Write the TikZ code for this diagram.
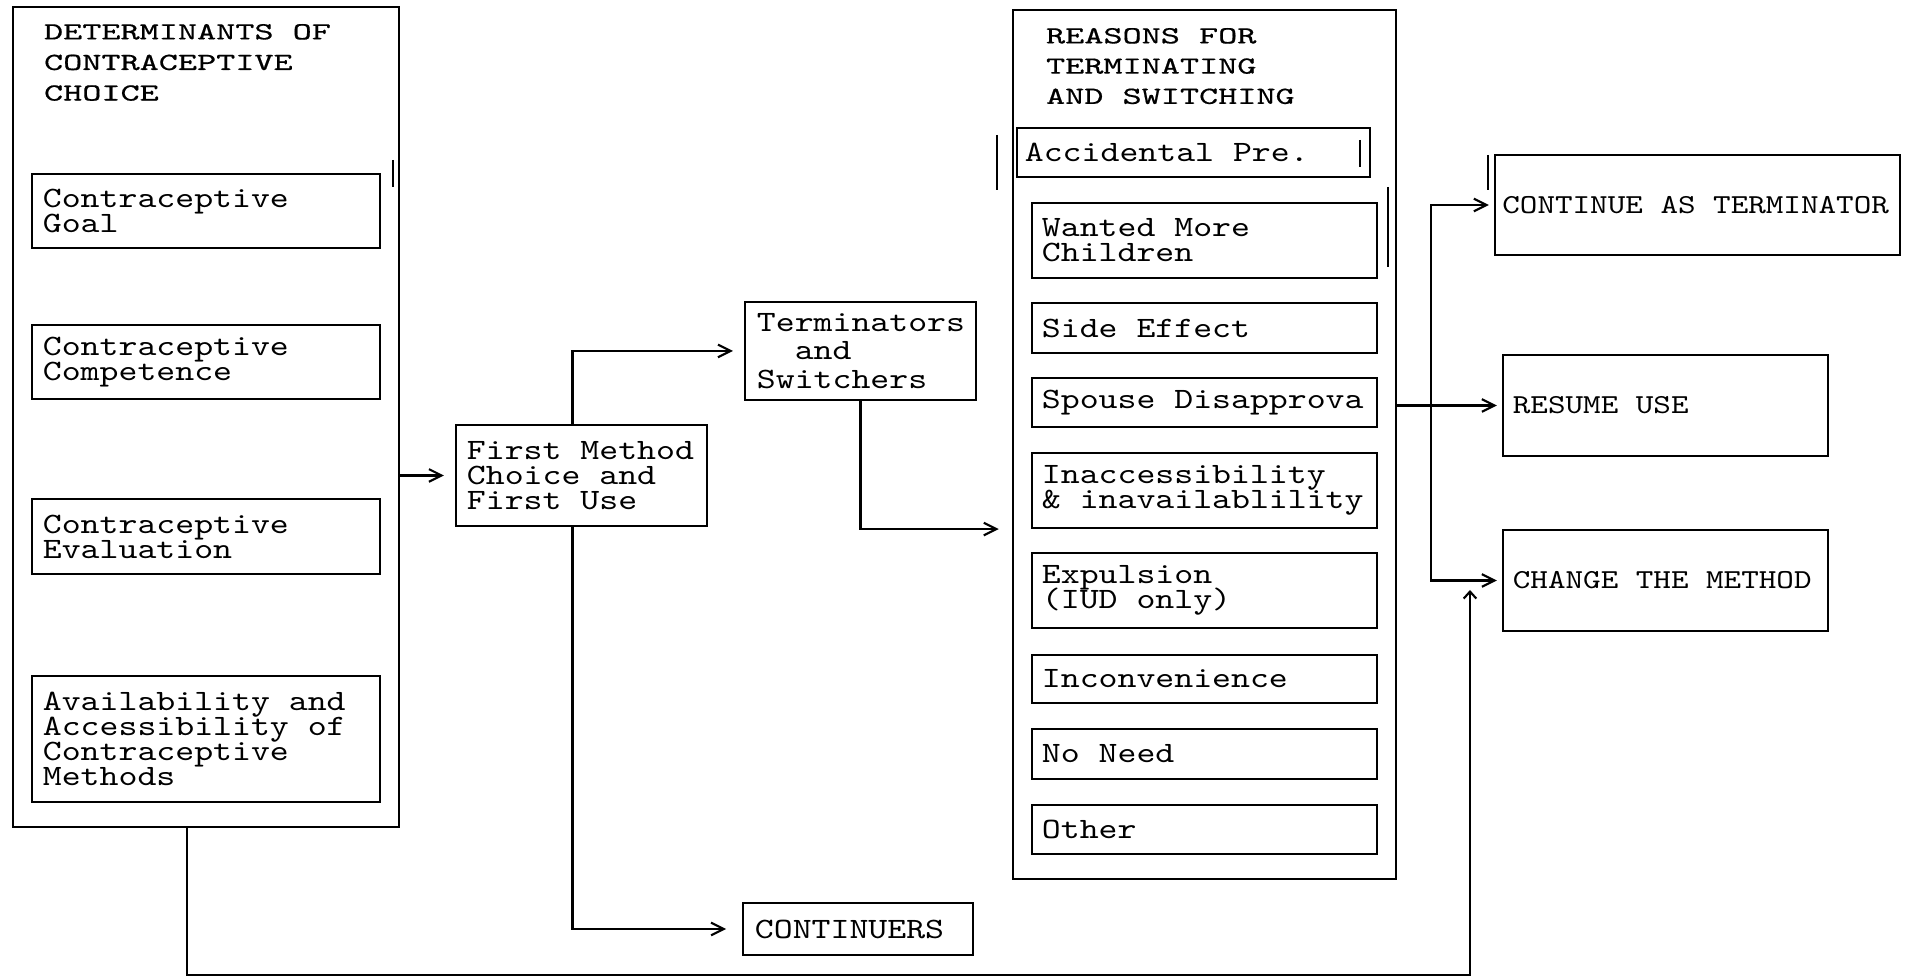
\documentclass[tikz,border=0pt]{standalone}
\usepackage{fontspec}
\newfontfamily\boxfont{lmmono10-regular.otf}[FakeStretch=1.22,HyphenChar=None]
\newfontfamily\headfont{lmmono10-regular.otf}[FakeStretch=1.48,FakeBold=0.6,HyphenChar=None]
\usetikzlibrary{arrows.meta,calc,positioning}
\normallineskiplimit=-10pt

\begin{document}
\lineskiplimit=-10pt
\begin{tikzpicture}[x=0.01cm,y=-0.01cm,line width=0.6pt]
\tikzset{frame/.style = {draw, rectangle, inner sep=0pt},
  item/.style = {frame, align=flush left, text width=3.25cm, minimum width=3.45cm,
    font=\boxfont\fontsize{8.4}{7.1}\selectfont},
  head/.style = {inner sep=0pt, align=left, anchor=north west,
    font=\headfont\fontsize{7}{8.7}\selectfont},
  outcome/.style = {frame, align=flush left, text width=3.05cm, minimum width=3.25cm,
    minimum height=1.01cm, font=\boxfont\fontsize{7.8}{9}\selectfont},
  flow/.style = {-{Straight Barb[length=3.6pt,width=3.6pt]}, shorten >=3.1pt},
  backflow/.style = {-{Straight Barb[length=2pt,width=3.6pt]}}}
\useasboundingbox (0,0) rectangle (1932,980);

\node[frame, minimum width=3.86cm, minimum height=8.20cm] (det) at (206,417) {};
\node[head] (dettitle) at (43,23) {DETERMINANTS OF\\CONTRACEPTIVE\\CHOICE};
\node[item, minimum width=3.48cm, minimum height=0.74cm, text width=3.26cm] (goal) at (206,211) {Contraceptive\\Goal};
\node[item, minimum width=3.48cm, minimum height=0.74cm, text width=3.26cm] (compet) at (206,362) {Contraceptive\\Competence};
\node[item, minimum width=3.48cm, minimum height=0.75cm, text width=3.26cm] (evalu) at (206,536.5) {Contraceptive\\Evaluation};
\node[item, minimum width=3.48cm, minimum height=1.26cm, text width=3.26cm] (avail) at (206,739) {Availability and\\Accessibility of\\Contraceptive\\Methods};

\node[item, minimum width=2.51cm, minimum height=1.01cm, text width=2.29cm] (first) at (581.5,475.5) {First Method\\Choice and\\First Use};
\node[item, minimum width=2.31cm, minimum height=0.98cm, text width=2.07cm,
  font=\boxfont\fontsize{8.4}{8.2}\selectfont] (term) at (860.5,351) {Terminators\\\phantom{xx}and\\Switchers};
\node[item, minimum width=2.30cm, minimum height=0.52cm, text width=2.06cm] (contin) at (858,929) {CONTINUERS};

\node[frame, minimum width=3.83cm, minimum height=8.69cm] (reas) at (1204.5,444.5) {};
\node[head, font=\headfont\fontsize{7}{8.6}\selectfont] (reastitle) at (1045,27) {REASONS FOR\\TERMINATING\\AND SWITCHING};
\node[item, minimum width=3.53cm, minimum height=0.49cm, text width=3.37cm] (accid) at (1193.5,152.5) {Accidental Pre.};
\node[item, minimum height=0.75cm] (wanted) at (1204.5,240.5) {Wanted More\\Children};
\node[item, minimum height=0.50cm] (side) at (1204.5,328) {Side Effect};
\node[item, minimum height=0.49cm] (spouse) at (1204.5,402.5) {Spouse Disapprova};
\node[item, minimum height=0.75cm] (inacc) at (1204.5,490.5) {Inaccessibility\\\& inavailablility};
\node[item, minimum height=0.75cm] (expul) at (1204.5,590.5) {Expulsion\\(IUD only)};
\node[item, minimum height=0.48cm] (incon) at (1204.5,679) {Inconvenience};
\node[item, minimum height=0.50cm] (noneed) at (1204.5,754) {No Need};
\node[item, minimum height=0.49cm] (other) at (1204.5,829.5) {Other};

\node[outcome, minimum width=4.05cm, minimum height=1.00cm, text width=3.9cm] (cont) at (1697.5,205) {CONTINUE AS TERMINATOR};
\node[outcome] (resume) at (1665.5,405.5) {RESUME USE};
\node[outcome] (change) at (1665.5,580.5) {CHANGE THE METHOD};

\draw[flow] (det.east |- first.west) -- (first.west);
\draw[flow] ($(first.north)+(-9,0)$) |- (term.west);
\draw[flow, shorten >=4.5pt] ($(first.south)+(-9,0)$) |- (contin.west);
\draw[flow, shorten >=3.7pt] (term.south) |- (reas.west |- inacc.south);

\coordinate (split) at ($(reas.east |- resume.west)+(34,0)$);
\draw[flow, shorten >=1.4pt] (reas.east |- resume.west) -- (resume.west);
\draw[flow, shorten >=1.4pt] (split) |- (cont.west);
\draw[flow, shorten >=1.4pt] (split) |- (change.west);

\coordinate (fbturn) at (1470,975);
\coordinate (fbend) at (1470,590);
\draw[backflow] ($(det.south)+(-19,0)$) |- (fbturn) -- (fbend);

\foreach \x/\ya/\yb in {393/160/187, 997/135/190, 1360/140/167, 1388/187/267, 1488/155/190}
  \draw (\x,\ya) -- (\x,\yb);
\end{tikzpicture}
\end{document}
